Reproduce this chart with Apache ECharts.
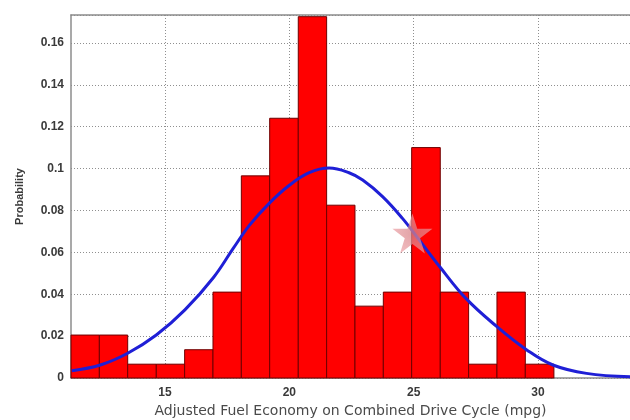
<!DOCTYPE html>
<html>
<head>
<meta charset="utf-8">
<script src="https://cdn.jsdelivr.net/npm/echarts@6/dist/echarts.min.js"></script>
<style>
  html, body { margin: 0; padding: 0; background: #fff; }
  #chart { width: 630px; height: 420px; }
</style>
</head>
<body>
<div id="chart"></div>
<script>
// Histogram bin edges (mpg) and the probability of each bin
const binEdges = [11.22, 12.36, 13.50, 14.65, 15.79, 16.93, 18.07, 19.21, 20.36,
                  21.50, 22.64, 23.78, 24.92, 26.07, 27.21, 28.35, 29.49, 30.64];
const binValues = [0.0205, 0.0205, 0.0066, 0.0066, 0.0135, 0.041, 0.0965, 0.124,
                   0.1725, 0.0825, 0.0343, 0.041, 0.110, 0.041, 0.0066, 0.041, 0.0066];

// Fitted distribution curve
const curveX = [11.25, 12.4, 13.5, 14.65, 15.8, 16.95, 17.75, 18.4, 19.2, 20.0, 20.8, 21.6,
                22.4, 22.95, 23.75, 24.55, 25.25, 26.05, 27.1, 28.35, 29.55, 30.6, 31.95, 33.7];
const curveY = [0.0035, 0.0062, 0.0118, 0.0205, 0.0325, 0.048, 0.062, 0.073, 0.0835,
                0.092, 0.098, 0.1002, 0.098, 0.0945, 0.0866, 0.0762, 0.0655, 0.0531, 0.038,
                0.0245, 0.0134, 0.0062, 0.0022, 0.0006];

// Highlighted vehicle
const starPoint = [24.95, 0.069];

// Axis ticks
const xTicks = [15, 20, 25, 30];

const histData = binValues.map((v, i) => [binEdges[i], binEdges[i + 1], v]);
const curveData = curveX.map((x, i) => [x, curveY[i]]);

const starPath = 'path://M50,0 L61.8,35.4 L99,35.4 L68.8,57.3 L80.4,92.7 L50,70.8 L19.6,92.7 L31.2,57.3 L1,35.4 L38.2,35.4 Z';

const chart = echarts.init(document.getElementById('chart'), null, { renderer: 'canvas' });

const tickFont = { fontFamily: 'Liberation Sans', fontWeight: 'bold', fontSize: 12, color: '#3a3a3a' };
const gridLine = { show: true, lineStyle: { color: '#8f8f8f', type: [1, 2], width: 1 } };
const frameLine = { show: true, lineStyle: { color: '#8c8c8c', width: 1.5 } };

chart.setOption({
  animation: false,
  backgroundColor: '#ffffff',
  grid: {
    left: 71, top: 15, right: 0, bottom: 42, show: false,
    containLabel: false, outerBoundsMode: 'none'
  },
  xAxis: [
    {
      type: 'value',
      min: 11.22,
      max: 33.7,
      name: 'Adjusted Fuel Economy on Combined Drive Cycle (mpg)',
      nameLocation: 'middle',
      nameGap: 25,
      nameTextStyle: { fontFamily: 'DejaVu Sans', fontSize: 14, color: '#4a4a4a' },
      axisLine: frameLine,
      axisTick: { show: false, customValues: xTicks },
      axisLabel: Object.assign({ customValues: xTicks, margin: 9 }, tickFont),
      splitLine: gridLine
    },
    {
      // top frame edge
      type: 'value',
      position: 'top',
      min: 11.22,
      max: 33.7,
      axisLine: frameLine,
      axisTick: { show: false },
      axisLabel: { show: false },
      splitLine: { show: false }
    }
  ],
  yAxis: {
    type: 'value',
    min: 0,
    max: 0.1733,
    interval: 0.02,
    name: 'Probability',
    nameLocation: 'middle',
    nameGap: 46,
    nameTextStyle: { fontFamily: 'Liberation Sans', fontWeight: 'bold', fontSize: 11, color: '#3a3a3a' },
    axisLine: frameLine,
    axisTick: { show: false },
    axisLabel: Object.assign({ showMaxLabel: false, margin: 7 }, tickFont),
    splitLine: gridLine
  },
  series: [
    {
      type: 'custom',
      name: 'histogram',
      data: histData,
      encode: { x: [0, 1], y: 2 },
      renderItem: function (params, api) {
        const topLeft = api.coord([api.value(0), api.value(2)]);
        const bottomRight = api.coord([api.value(1), 0]);
        return {
          type: 'rect',
          shape: {
            x: topLeft[0], y: topLeft[1],
            width: bottomRight[0] - topLeft[0],
            height: bottomRight[1] - topLeft[1]
          },
          style: { fill: '#ff0000', stroke: '#6e0000', lineWidth: 1 }
        };
      },
      z: 2
    },
    {
      type: 'line',
      name: 'fit',
      data: curveData,
      smooth: 0.4,
      showSymbol: false,
      lineStyle: { color: '#1f1fd6', width: 3 },
      z: 3
    },
    {
      type: 'scatter',
      name: 'vehicle',
      data: [starPoint],
      symbol: starPath,
      symbolSize: 40,
      itemStyle: {
        color: new echarts.graphic.RadialGradient(0.5, 0.5, 0.6, [
          { offset: 0, color: 'rgba(215,130,135,0.92)' },
          { offset: 1, color: 'rgba(238,160,165,0.85)' }
        ])
      },
      z: 4
    }
  ]
});
</script>
</body>
</html>
